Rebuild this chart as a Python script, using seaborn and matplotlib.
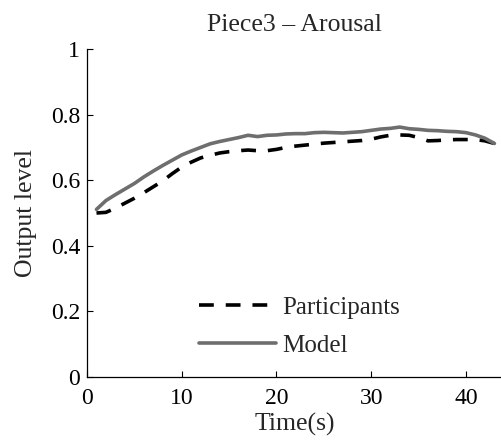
import numpy as np
import pandas as pd
import seaborn as sns
import matplotlib.pyplot as plt

# time axis (s) and the two curves
time_s = np.arange(1, 44)
participants = [0.500, 0.502, 0.515, 0.530, 0.545, 0.562, 0.580, 0.598, 0.620, 0.640,
                0.655, 0.668, 0.676, 0.683, 0.687, 0.690, 0.692, 0.690, 0.690, 0.694,
                0.700, 0.704, 0.707, 0.710, 0.713, 0.715, 0.717, 0.719, 0.721, 0.725,
                0.732, 0.737, 0.738, 0.737, 0.730, 0.720, 0.721, 0.723, 0.724, 0.724,
                0.724, 0.720, 0.712]
model = [0.511, 0.538, 0.556, 0.573, 0.590, 0.610, 0.628, 0.645, 0.661, 0.677,
         0.689, 0.700, 0.711, 0.718, 0.724, 0.730, 0.737, 0.733, 0.737, 0.738,
         0.741, 0.742, 0.742, 0.745, 0.746, 0.745, 0.744, 0.746, 0.748, 0.752,
         0.756, 0.758, 0.762, 0.757, 0.755, 0.752, 0.751, 0.749, 0.748, 0.745,
         0.738, 0.728, 0.712]
x_ticks = [0, 10, 20, 30, 40]
y_ticks = [0, 0.2, 0.4, 0.6, 0.8, 1]
y_ticklabels = ['0', '0.2', '0.4', '0.6', '0.8', '1']

sns.set_style('ticks')
plt.rcParams['font.family'] = ['Liberation Serif', 'DejaVu Serif']

fig = plt.figure(figsize=(5.02, 4.44), dpi=100)
ax = fig.add_axes([0.1733, 0.1509, 0.8267, 0.7387])

df = pd.DataFrame({'t': time_s, 'Participants': participants, 'Model': model})
sns.lineplot(data=df, x='t', y='Participants', ax=ax, color='black', lw=2.6,
             label='Participants')
ax.lines[-1].set_dashes((4.1, 3.3))
sns.lineplot(data=df, x='t', y='Model', ax=ax, color='#6e6e6e', lw=2.6, label='Model')

ax.set_xlim(0, 43.8)
ax.set_ylim(0, 1)
ax.set_xticks(x_ticks)
ax.set_yticks(y_ticks)
ax.set_yticklabels(y_ticklabels)
ax.tick_params(direction='in', length=4, width=0.8, labelsize=17, colors='black')
ax.tick_params(axis='x', pad=8)
ax.tick_params(axis='y', pad=5)
for s in ['top', 'right']:
    ax.spines[s].set_visible(False)
for s in ['left', 'bottom']:
    ax.spines[s].set_linewidth(0.9)
    ax.spines[s].set_color('black')

ax.set_xlabel('Time(s)', fontsize=18.5, labelpad=3)
ax.set_ylabel('Output level', fontsize=18.5, labelpad=10)
ax.set_title('Piece3 – Arousal', fontsize=18.5, pad=13)

ax.legend(loc='lower left', bbox_to_anchor=(0.245, 0.032), frameon=False, fontsize=18,
          handlelength=3.1, handletextpad=0.25, labelspacing=0.6, borderaxespad=0)

fig.savefig('out.png', dpi=100)
